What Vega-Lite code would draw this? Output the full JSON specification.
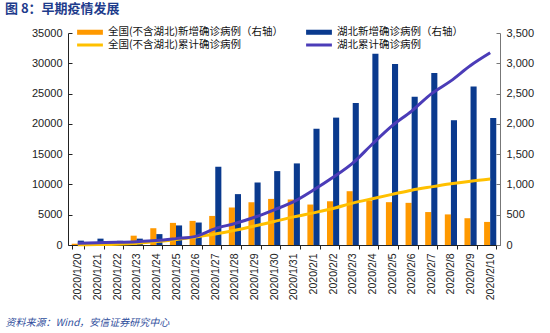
{
  "$schema": "https://vega.github.io/schema/vega-lite/v6.json",
  "width": 432,
  "height": 212,
  "autosize": {"type": "none"},
  "padding": {"left": 68, "top": 33, "right": 50, "bottom": 88},
  "background": "white",
  "config": {
    "view": {"stroke": null},
    "axis": {"grid": false, "labelFont": "Liberation Sans", "labelColor": "#222", "labelFontSize": 11}
  },
  "title": {
    "text": "图 8：早期疫情发展",
    "anchor": "start",
    "frame": "group",
    "dx": -63,
    "offset": 10,
    "font": "Noto Sans CJK SC",
    "fontSize": 13,
    "fontWeight": "bold",
    "color": "#1E3C8C"
  },
  "data": {
    "values": [
      {"date": "2020/1/20", "series": "全国(不含湖北)新增确诊病例（右轴）", "value": 21},
      {"date": "2020/1/21", "series": "全国(不含湖北)新增确诊病例（右轴）", "value": 44},
      {"date": "2020/1/22", "series": "全国(不含湖北)新增确诊病例（右轴）", "value": 62},
      {"date": "2020/1/23", "series": "全国(不含湖北)新增确诊病例（右轴）", "value": 154},
      {"date": "2020/1/24", "series": "全国(不含湖北)新增确诊病例（右轴）", "value": 277},
      {"date": "2020/1/25", "series": "全国(不含湖北)新增确诊病例（右轴）", "value": 365},
      {"date": "2020/1/26", "series": "全国(不含湖北)新增确诊病例（右轴）", "value": 398},
      {"date": "2020/1/27", "series": "全国(不含湖北)新增确诊病例（右轴）", "value": 480},
      {"date": "2020/1/28", "series": "全国(不含湖北)新增确诊病例（右轴）", "value": 619},
      {"date": "2020/1/29", "series": "全国(不含湖北)新增确诊病例（右轴）", "value": 705},
      {"date": "2020/1/30", "series": "全国(不含湖北)新增确诊病例（右轴）", "value": 761},
      {"date": "2020/1/31", "series": "全国(不含湖北)新增确诊病例（右轴）", "value": 752},
      {"date": "2020/2/1", "series": "全国(不含湖北)新增确诊病例（右轴）", "value": 668},
      {"date": "2020/2/2", "series": "全国(不含湖北)新增确诊病例（右轴）", "value": 722},
      {"date": "2020/2/3", "series": "全国(不含湖北)新增确诊病例（右轴）", "value": 888},
      {"date": "2020/2/4", "series": "全国(不含湖北)新增确诊病例（右轴）", "value": 730},
      {"date": "2020/2/5", "series": "全国(不含湖北)新增确诊病例（右轴）", "value": 707},
      {"date": "2020/2/6", "series": "全国(不含湖北)新增确诊病例（右轴）", "value": 696},
      {"date": "2020/2/7", "series": "全国(不含湖北)新增确诊病例（右轴）", "value": 544},
      {"date": "2020/2/8", "series": "全国(不含湖北)新增确诊病例（右轴）", "value": 505},
      {"date": "2020/2/9", "series": "全国(不含湖北)新增确诊病例（右轴）", "value": 442},
      {"date": "2020/2/10", "series": "全国(不含湖北)新增确诊病例（右轴）", "value": 381},
      {"date": "2020/1/20", "series": "湖北新增确诊病例（右轴）", "value": 72},
      {"date": "2020/1/21", "series": "湖北新增确诊病例（右轴）", "value": 105},
      {"date": "2020/1/22", "series": "湖北新增确诊病例（右轴）", "value": 69},
      {"date": "2020/1/23", "series": "湖北新增确诊病例（右轴）", "value": 105},
      {"date": "2020/1/24", "series": "湖北新增确诊病例（右轴）", "value": 180},
      {"date": "2020/1/25", "series": "湖北新增确诊病例（右轴）", "value": 323},
      {"date": "2020/1/26", "series": "湖北新增确诊病例（右轴）", "value": 371},
      {"date": "2020/1/27", "series": "湖北新增确诊病例（右轴）", "value": 1291},
      {"date": "2020/1/28", "series": "湖北新增确诊病例（右轴）", "value": 840},
      {"date": "2020/1/29", "series": "湖北新增确诊病例（右轴）", "value": 1032},
      {"date": "2020/1/30", "series": "湖北新增确诊病例（右轴）", "value": 1220},
      {"date": "2020/1/31", "series": "湖北新增确诊病例（右轴）", "value": 1347},
      {"date": "2020/2/1", "series": "湖北新增确诊病例（右轴）", "value": 1921},
      {"date": "2020/2/2", "series": "湖北新增确诊病例（右轴）", "value": 2103},
      {"date": "2020/2/3", "series": "湖北新增确诊病例（右轴）", "value": 2345},
      {"date": "2020/2/4", "series": "湖北新增确诊病例（右轴）", "value": 3156},
      {"date": "2020/2/5", "series": "湖北新增确诊病例（右轴）", "value": 2987},
      {"date": "2020/2/6", "series": "湖北新增确诊病例（右轴）", "value": 2447},
      {"date": "2020/2/7", "series": "湖北新增确诊病例（右轴）", "value": 2841},
      {"date": "2020/2/8", "series": "湖北新增确诊病例（右轴）", "value": 2060},
      {"date": "2020/2/9", "series": "湖北新增确诊病例（右轴）", "value": 2618},
      {"date": "2020/2/10", "series": "湖北新增确诊病例（右轴）", "value": 2097},
      {"date": "2020/1/20", "series": "全国(不含湖北)累计确诊病例", "value": 21},
      {"date": "2020/1/21", "series": "全国(不含湖北)累计确诊病例", "value": 65},
      {"date": "2020/1/22", "series": "全国(不含湖北)累计确诊病例", "value": 127},
      {"date": "2020/1/23", "series": "全国(不含湖北)累计确诊病例", "value": 281},
      {"date": "2020/1/24", "series": "全国(不含湖北)累计确诊病例", "value": 558},
      {"date": "2020/1/25", "series": "全国(不含湖北)累计确诊病例", "value": 923},
      {"date": "2020/1/26", "series": "全国(不含湖北)累计确诊病例", "value": 1321},
      {"date": "2020/1/27", "series": "全国(不含湖北)累计确诊病例", "value": 1801},
      {"date": "2020/1/28", "series": "全国(不含湖北)累计确诊病例", "value": 2420},
      {"date": "2020/1/29", "series": "全国(不含湖北)累计确诊病例", "value": 3125},
      {"date": "2020/1/30", "series": "全国(不含湖北)累计确诊病例", "value": 3886},
      {"date": "2020/1/31", "series": "全国(不含湖北)累计确诊病例", "value": 4638},
      {"date": "2020/2/1", "series": "全国(不含湖北)累计确诊病例", "value": 5306},
      {"date": "2020/2/2", "series": "全国(不含湖北)累计确诊病例", "value": 6028},
      {"date": "2020/2/3", "series": "全国(不含湖北)累计确诊病例", "value": 6916},
      {"date": "2020/2/4", "series": "全国(不含湖北)累计确诊病例", "value": 7646},
      {"date": "2020/2/5", "series": "全国(不含湖北)累计确诊病例", "value": 8353},
      {"date": "2020/2/6", "series": "全国(不含湖北)累计确诊病例", "value": 9049},
      {"date": "2020/2/7", "series": "全国(不含湖北)累计确诊病例", "value": 9593},
      {"date": "2020/2/8", "series": "全国(不含湖北)累计确诊病例", "value": 10098},
      {"date": "2020/2/9", "series": "全国(不含湖北)累计确诊病例", "value": 10540},
      {"date": "2020/2/10", "series": "全国(不含湖北)累计确诊病例", "value": 10910},
      {"date": "2020/1/20", "series": "湖北累计确诊病例", "value": 270},
      {"date": "2020/1/21", "series": "湖北累计确诊病例", "value": 375},
      {"date": "2020/1/22", "series": "湖北累计确诊病例", "value": 444},
      {"date": "2020/1/23", "series": "湖北累计确诊病例", "value": 549},
      {"date": "2020/1/24", "series": "湖北累计确诊病例", "value": 729},
      {"date": "2020/1/25", "series": "湖北累计确诊病例", "value": 1052},
      {"date": "2020/1/26", "series": "湖北累计确诊病例", "value": 1423},
      {"date": "2020/1/27", "series": "湖北累计确诊病例", "value": 2714},
      {"date": "2020/1/28", "series": "湖北累计确诊病例", "value": 3554},
      {"date": "2020/1/29", "series": "湖北累计确诊病例", "value": 4586},
      {"date": "2020/1/30", "series": "湖北累计确诊病例", "value": 5806},
      {"date": "2020/1/31", "series": "湖北累计确诊病例", "value": 7153},
      {"date": "2020/2/1", "series": "湖北累计确诊病例", "value": 9074},
      {"date": "2020/2/2", "series": "湖北累计确诊病例", "value": 11177},
      {"date": "2020/2/3", "series": "湖北累计确诊病例", "value": 13522},
      {"date": "2020/2/4", "series": "湖北累计确诊病例", "value": 16678},
      {"date": "2020/2/5", "series": "湖北累计确诊病例", "value": 19665},
      {"date": "2020/2/6", "series": "湖北累计确诊病例", "value": 22112},
      {"date": "2020/2/7", "series": "湖北累计确诊病例", "value": 24953},
      {"date": "2020/2/8", "series": "湖北累计确诊病例", "value": 27100},
      {"date": "2020/2/9", "series": "湖北累计确诊病例", "value": 29631},
      {"date": "2020/2/10", "series": "湖北累计确诊病例", "value": 31728}
    ]
  },
  "encoding": {
    "x": {
      "field": "date",
      "type": "nominal",
      "sort": null,
      "scale": {"paddingInner": 0.38, "paddingOuter": 0.19},
      "axis": {
        "labelAngle": -90,
        "tickBand": "extent",
        "tickSize": 4,
        "tickColor": "#222",
        "domainColor": "#222",
        "labelFontSize": 10.5,
        "labelPadding": 4,
        "title": "资料来源：Wind，安信证券研究中心",
        "titleAnchor": "start",
        "titleX": -63,
        "titleY": 77,
        "titleBaseline": "middle",
        "titleAlign": "left",
        "titleFont": "Noto Sans CJK SC",
        "titleFontSize": 10,
        "titleFontWeight": "normal",
        "titleFontStyle": "italic",
        "titleColor": "#2F4E9C"
      }
    },
    "color": {
      "field": "series",
      "type": "nominal",
      "scale": {
        "domain": ["全国(不含湖北)新增确诊病例（右轴）", "湖北新增确诊病例（右轴）", "全国(不含湖北)累计确诊病例", "湖北累计确诊病例"],
        "range": ["#FF9900", "#0A3A8E", "#FFC000", "#4B3CB8"]
      },
      "legend": {
        "title": null,
        "orient": "none",
        "direction": "horizontal",
        "legendX": 16,
        "legendY": -7,
        "columns": 2,
        "columnPadding": 22,
        "rowPadding": 1,
        "padding": 0,
        "symbolSize": 144,
        "labelOffset": 12,
        "labelFont": "Noto Sans CJK SC",
        "labelFontSize": 10.5,
        "labelColor": "#111",
        "labelLimit": 300,
        "encode": {
          "symbols": {
            "update": {
              "shape": {"signal": "indexof(datum.value, '新增') >= 0 ? 'M-2.15,-0.42H2.15V0.42H-2.15Z' : 'M-2.15,-0.25H2.15V0.25H-2.15Z'"},
              "fill": {"scale": "color", "field": "value"},
              "strokeWidth": {"value": 0},
              "opacity": {"value": 1}
            }
          }
        }
      }
    }
  },
  "layer": [
    {
      "transform": [{"filter": "indexof(datum.series, '新增') >= 0"}],
      "mark": {"type": "bar"},
      "encoding": {
        "xOffset": {"field": "series", "type": "nominal", "sort": ["全国(不含湖北)新增确诊病例（右轴）", "湖北新增确诊病例（右轴）"], "scale": {"paddingInner": 0, "paddingOuter": 0}},
        "y": {
          "field": "value",
          "type": "quantitative",
          "scale": {"domain": [0, 3500], "nice": false},
          "axis": {
            "orient": "right",
            "title": null,
            "values": [0, 500, 1000, 1500, 2000, 2500, 3000, 3500],
            "format": ",.0f",
            "tickSize": -4,
            "labelPadding": 10,
            "domainColor": "#777",
            "tickColor": "#777"
          }
        }
      }
    },
    {
      "transform": [{"filter": "indexof(datum.series, '累计') >= 0"}],
      "mark": {"type": "line", "strokeWidth": 3, "interpolate": "monotone"},
      "encoding": {
        "y": {
          "field": "value",
          "type": "quantitative",
          "scale": {"domain": [0, 35000], "nice": false},
          "axis": {
            "orient": "left",
            "title": null,
            "values": [0, 5000, 10000, 15000, 20000, 25000, 30000, 35000],
            "format": "d",
            "tickSize": -4,
            "labelPadding": 10,
            "domainColor": "#222",
            "tickColor": "#222"
          }
        }
      }
    }
  ],
  "resolve": {"scale": {"y": "independent"}}
}
